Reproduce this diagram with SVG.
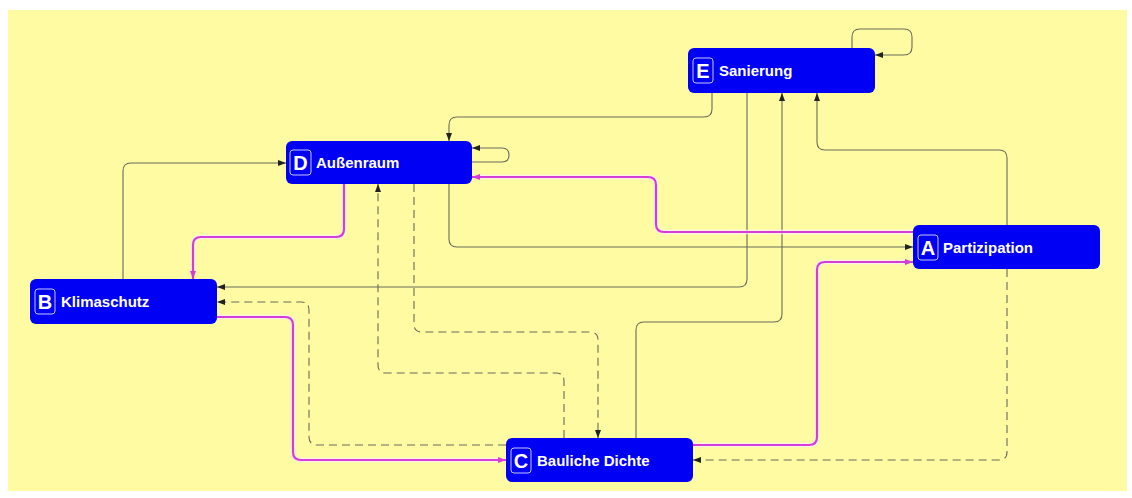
<svg xmlns="http://www.w3.org/2000/svg" width="1132" height="498" viewBox="0 0 1132 498">
<defs>
<style>
.bg{fill:#fffba3}
.node rect.box{fill:#0000f5}
.node rect.badge{fill:none;stroke:#c8c8ff;stroke-width:1}
.node text{fill:#ffffff;font-family:"Liberation Sans",Arial,sans-serif;font-weight:bold}
.node text.letter{font-size:20px;text-anchor:middle}
.node text.label{font-size:15px}
.edge{fill:none;stroke:#6a6a5a;stroke-width:1.1}
.dash{stroke-dasharray:8,5}
.halo{fill:none;stroke:#fff0ff;stroke-width:4.5;stroke-opacity:0.7}
.mag{fill:none;stroke:#d63cd6;stroke-width:2.2}
</style>
<marker id="ah" viewBox="0 0 8 8" refX="8" refY="4" markerWidth="8" markerHeight="8" markerUnits="userSpaceOnUse" orient="auto">
<path d="M0,1 L8,4 L0,7 z" fill="#222"/>
</marker>
<marker id="am" viewBox="0 0 8 8" refX="8" refY="4" markerWidth="8" markerHeight="8" markerUnits="userSpaceOnUse" orient="auto">
<path d="M0,1 L8,4 L0,7 z" fill="#d63cd6"/>
</marker>
</defs>
<rect x="0" y="0" width="1132" height="498" fill="#ffffff"/>
<rect class="bg" x="8" y="10" width="1119" height="481"/>
<g id="connectors">
<path class="edge" d="M852,48 V37 Q852,29 860,29 H904 Q912,29 912,37 V47 Q912,55 904,55 H875" marker-end="url(#ah)"/>
<path class="edge" d="M712,93 V109 Q712,117 704,117 H457 Q449,117 449,125 V141" marker-end="url(#ah)"/>
<path class="edge" d="M747,93 V279 Q747,287 739,287 H217" marker-end="url(#ah)"/>
<path class="edge" d="M636,438 V330 Q636,322 644,322 H774 Q782,322 782,314 V93" marker-end="url(#ah)"/>
<path class="edge" d="M1007,225 V158 Q1007,150 999,150 H825 Q817,150 817,142 V93" marker-end="url(#ah)"/>
<path class="edge dash" d="M1007,269 V452 Q1007,460 999,460 H693" marker-end="url(#ah)"/>
<path class="edge" d="M472,162 H502 Q509,162 509,155 Q509,148 502,148 H472" marker-end="url(#ah)"/>
<path class="edge" d="M449,184 V239 Q449,247 457,247 H913" marker-end="url(#ah)"/>
<path class="edge" d="M123,279 V171 Q123,163 131,163 H286" marker-end="url(#ah)"/>
<path class="edge dash" d="M506,445 H317 Q309,445 309,437 V310 Q309,302 301,302 H217" marker-end="url(#ah)"/>
<path class="edge dash" d="M564,438 V381 Q564,373 556,373 H386 Q378,373 378,365 V184" marker-end="url(#ah)"/>
<path class="edge dash" d="M414,184 V324 Q414,332 422,332 H590 Q598,332 598,340 V438" marker-end="url(#ah)"/>
<path class="halo" d="M913,232 H664 Q656,232 656,224 V185 Q656,177 648,177 H480"/>
<path class="mag" d="M913,232 H664 Q656,232 656,224 V185 Q656,177 648,177 H472" marker-end="url(#am)"/>
<path class="halo" d="M344,184 V229 Q344,237 336,237 H201 Q193,237 193,245 V271"/>
<path class="mag" d="M344,184 V229 Q344,237 336,237 H201 Q193,237 193,245 V279" marker-end="url(#am)"/>
<path class="halo" d="M693,445 H809 Q817,445 817,437 V270 Q817,262 825,262 H905"/>
<path class="mag" d="M693,445 H809 Q817,445 817,437 V270 Q817,262 825,262 H913" marker-end="url(#am)"/>
<path class="halo" d="M217,317 H285 Q293,317 293,325 V452 Q293,460 301,460 H498"/>
<path class="mag" d="M217,317 H285 Q293,317 293,325 V452 Q293,460 301,460 H506" marker-end="url(#am)"/>
</g>
<g id="node-E" class="node">
<rect class="box" x="688" y="48" width="187" height="45" rx="6"/>
<rect class="badge" x="693" y="58" width="20" height="25" rx="3"/>
<text class="letter" x="703" y="78">E</text>
<text class="label" x="719" y="76">Sanierung</text>
</g>
<g id="node-D" class="node">
<rect class="box" x="286" y="141" width="186" height="43" rx="6"/>
<rect class="badge" x="290" y="150" width="21" height="25" rx="3"/>
<text class="letter" x="300.5" y="170">D</text>
<text class="label" x="316" y="168">Außenraum</text>
</g>
<g id="node-A" class="node">
<rect class="box" x="913" y="225" width="187" height="44" rx="6"/>
<rect class="badge" x="918" y="235" width="20" height="25" rx="3"/>
<text class="letter" x="928" y="255">A</text>
<text class="label" x="943" y="253">Partizipation</text>
</g>
<g id="node-B" class="node">
<rect class="box" x="30" y="279" width="187" height="45" rx="6"/>
<rect class="badge" x="35" y="289" width="20" height="25" rx="3"/>
<text class="letter" x="45" y="309">B</text>
<text class="label" x="61" y="307">Klimaschutz</text>
</g>
<g id="node-C" class="node">
<rect class="box" x="506" y="438" width="187" height="44" rx="6"/>
<rect class="badge" x="511" y="448" width="20" height="25" rx="3"/>
<text class="letter" x="521" y="468">C</text>
<text class="label" x="537" y="466">Bauliche Dichte</text>
</g>
</svg>
